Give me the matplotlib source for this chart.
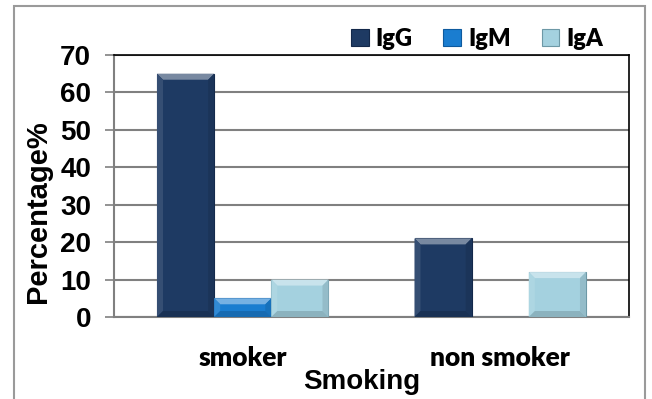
import matplotlib
matplotlib.use("Agg")
import matplotlib.pyplot as plt
from matplotlib.patches import Rectangle, Polygon
from matplotlib.transforms import IdentityTransform
import matplotlib.colors as mcolors
import numpy as np

categories = ["smoker", "non smoker"]
series = ["IgG", "IgM", "IgA"]
igg = [65, 21]
igm = [5, 0]
iga = [10, 12]
yticks = [0, 10, 20, 30, 40, 50, 60, 70]
colors = ["#1e3a63", "#1a7dd0", "#a4d1df"]
edges = ["#13284a", "#0e5a9e", "#6d98a6"]


def shade(c, f):
    r = np.array(mcolors.to_rgb(c))
    if f > 0:
        r = r + (1 - r) * f
    else:
        r = r * (1 + f)
    return tuple(np.clip(r, 0, 1))


fig = plt.figure(figsize=(6.52, 3.99), dpi=100)
ax = fig.add_axes([114/652, 1-317/399, (629-114)/652, (317-55)/399])

x = np.arange(len(categories))
w = 0.222
containers = []
for i, (vals, name) in enumerate(zip([igg, igm, iga], series)):
    bc = ax.bar(x + (i-1)*w, vals, width=w, color=colors[i], edgecolor=edges[i],
                linewidth=0.8, label=name, zorder=3)
    containers.append((bc, colors[i]))

ax.set_xlim(-0.5, 1.5)
ax.set_ylim(0, 70)
ax.set_yticks(yticks)
ax.set_yticklabels([str(t) for t in yticks], fontsize=20, fontweight="bold",
                   family="Liberation Sans")
ax.set_xticks(x)
ax.set_xticklabels(categories, fontsize=19, fontweight="heavy", family="Lato")
ax.tick_params(axis="x", length=0, pad=21)
ax.tick_params(axis="y", length=6.5, width=1.2, color="#808080", pad=10,
               direction="out")
ax.yaxis.grid(True, color="#808080", linewidth=1.5, zorder=0)
ax.set_axisbelow(True)
for s in ["top", "right"]:
    ax.spines[s].set_color("black")
    ax.spines[s].set_linewidth(1.2)
for s in ["left", "bottom"]:
    ax.spines[s].set_color("#808080")
    ax.spines[s].set_linewidth(1.5)

# bevel effect derived from the drawn bars
b = 6
for bc, col in containers:
    for rect in bc:
        if rect.get_height() <= 0:
            continue
        (x0, y0), (x1, y1) = rect.get_window_extent().get_points()
        bb = min(b, (y1 - y0) / 3)
        polys = [
            ([(x0, y1), (x1, y1), (x1 - b, y1 - bb), (x0 + b, y1 - bb)], shade(col, 0.4)),
            ([(x0, y0), (x0, y1), (x0 + b, y1 - bb), (x0 + b, y0 + bb)], shade(col, 0.1)),
            ([(x1, y0), (x1, y1), (x1 - b, y1 - bb), (x1 - b, y0 + bb)], shade(col, -0.1)),
            ([(x0, y0), (x1, y0), (x1 - b, y0 + bb), (x0 + b, y0 + bb)], shade(col, -0.15)),
        ]
        for pts, c in polys:
            fig.patches.append(Polygon(pts, closed=True, facecolor=c, edgecolor="none",
                                       transform=IdentityTransform(), zorder=4))

fig.text(38/652, 1-212/399, "Percentage%", rotation=90, ha="center", va="center",
         fontsize=21, fontweight="bold", family="Liberation Sans")
fig.text(362/652, 1-382/399, "Smoking", ha="center", va="center",
         fontsize=20, fontweight="bold", family="Liberation Sans")

leg = ax.legend(loc="center left", bbox_to_anchor=(351/652, 1-39/399), bbox_transform=fig.transFigure,
                ncol=3, frameon=False, prop={"family": "Lato", "weight": "heavy", "size": 17},
                handlelength=0.75, handleheight=0.75, handletextpad=0.3, columnspacing=1.3,
                borderaxespad=0, borderpad=0)

fig.patches.append(Rectangle((14/652, -0.01), (645-14)/652, 1-6/399+0.01,
                             transform=fig.transFigure, fill=False,
                             edgecolor="#9a9a9a", linewidth=1.5))
fig.savefig("out.png", dpi=100)
